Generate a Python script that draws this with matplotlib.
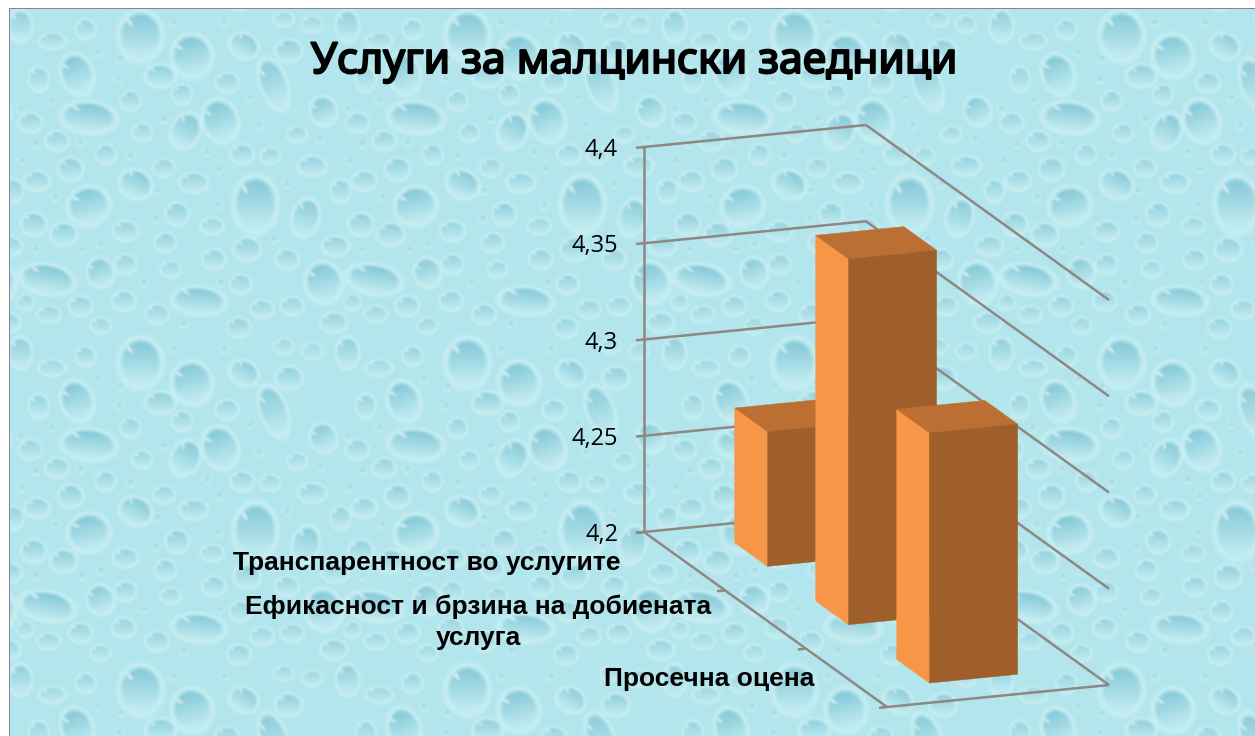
#!/usr/bin/env python3
# -*- coding: utf-8 -*-

import numpy as np
import matplotlib
matplotlib.use("Agg")
import matplotlib.pyplot as plt
import matplotlib.patheffects as pe
from matplotlib.patches import Polygon

# --- data ---
title = "Услуги за малцински заедници"
categories = ["Транспарентност во услугите",
              "Ефикасност и брзина на добиената\nуслуга",
              "Просечна оцена"]
values = [4.27, 4.39, 4.33]
z_ticks = [4.2, 4.25, 4.3, 4.35, 4.4]

# --- colours ---
side_col = "#F79646"
top_col = "#BC6F32"
front_col = "#9F5F2A"
grid_col = "#8F8784"

W, H = 1255, 736

# --- water drop wallpaper, one 327 px tile (x, y, w, h, angle) ---
T = 327
drops = [
    (390, 80, 130, 150, 0), (545, 140, 120, 130, -15), (200, 195, 95, 125, -20),
    (235, 325, 165, 95, 5), (630, 335, 105, 130, -20), (525, 365, 85, 110, 25),
    (790, 225, 80, 160, -20), (735, 585, 130, 170, 0), (235, 590, 125, 115, -15),
    (375, 525, 100, 85, 25), (885, 625, 80, 115, 15), (110, 810, 165, 90, 10),
    (565, 875, 160, 85, 5), (940, 820, 110, 125, -15), (700, 110, 90, 75, 30),
    (940, 305, 80, 90, -25), (450, 200, 90, 70, 0), (85, 210, 60, 75, 0),
    (360, 275, 60, 60, 0), (125, 95, 80, 50, 0), (225, 60, 60, 60, 0),
    (30, 50, 70, 95, 0), (650, 220, 70, 60, 0), (835, 125, 80, 70, 0),
    (905, 45, 60, 50, 0), (820, 30, 60, 45, 0), (515, 255, 60, 60, 0),
    (60, 340, 70, 60, 0), (140, 395, 70, 60, 0), (395, 370, 60, 55, 0),
    (285, 435, 60, 60, 0), (695, 435, 70, 60, 0), (780, 440, 60, 50, 0),
    (860, 375, 60, 50, 0), (180, 480, 75, 70, 0), (460, 475, 65, 55, 0),
    (550, 520, 85, 60, 0), (80, 515, 75, 60, 0), (905, 470, 85, 60, 0),
    (990, 545, 60, 70, 0), (500, 615, 70, 70, 0), (70, 645, 75, 70, 0),
    (160, 675, 80, 70, 0), (345, 665, 75, 60, 0), (465, 700, 65, 60, 0),
    (605, 650, 70, 50, 0), (710, 720, 80, 70, 0), (610, 750, 70, 60, 0),
    (975, 710, 80, 60, 0), (830, 750, 70, 60, 0), (345, 765, 65, 60, 0),
    (270, 790, 80, 90, -20), (480, 780, 60, 50, 0), (690, 825, 65, 60, 0),
    (340, 875, 70, 60, 0), (210, 890, 70, 60, 0), (115, 915, 70, 50, 0),
    (440, 915, 70, 60, 0), (755, 900, 70, 55, 0), (845, 890, 70, 55, 0),
    (970, 940, 80, 60, 0), (685, 955, 70, 60, 0), (270, 950, 60, 50, 0),
    (45, 880, 50, 50, 0),
]
small_drops = [(125, 275), (325, 210), (460, 330), (210, 400), (75, 405), (35, 455),
               (135, 565), (440, 545), (620, 590), (435, 630), (790, 690), (720, 265),
               (745, 350), (930, 390), (830, 525), (270, 705), (215, 720), (75, 720),
               (520, 945), (630, 820), (400, 820), (30, 300), (640, 40), (490, 40),
               (330, 150), (260, 130), (590, 430), (360, 440), (625, 480)]


def make_tile():
    base = np.array([0xB3, 0xE5, 0xEC]) / 255
    dark = np.array([0x84, 0xC8, 0xD8]) / 255
    light = np.array([0xBE, 0xEA, 0xEF]) / 255
    rim = np.array([0xCE, 0xF3, 0xF5]) / 255
    yy, xx = np.mgrid[0:T, 0:T].astype(float)
    img = np.ones((T, T, 3)) * base
    all_drops = drops + [(x, y, 26, 26, 0) for x, y in small_drops]
    for zx, zy, zw, zh, ang in all_drops:
        # zoom pixels were 3x
        cx, cy, rx, ry = zx / 3, zy / 3, zw / 6, zh / 6
        a = np.radians(ang)
        dx = (xx - cx + T / 2) % T - T / 2
        dy = (yy - cy + T / 2) % T - T / 2
        u = (dx * np.cos(a) + dy * np.sin(a)) / rx
        v = (-dx * np.sin(a) + dy * np.cos(a)) / ry
        r = np.sqrt(u ** 2 + v ** 2)
        # small ones are paler
        strength = np.clip(min(zw, zh) / 90, 0.55, 1.0)
        glow = np.clip((1.25 - r) / 0.25, 0, 1)[..., None] * 0.7
        img = img * (1 - glow) + rim * glow
        mask = np.clip((1 - r) / 0.22, 0, 1)[..., None]
        t = np.clip((v + 0.9) / 1.6, 0, 1)[..., None]
        col = dark * (1 - t) + light * t
        col = col * strength + light * (1 - strength)
        img = img * (1 - mask) + col * mask
        hu = (u + 0.5 + v + 0.55) / 0.3
        hv = (u + 0.5 - v - 0.55) / 0.13
        hl = np.clip(1.3 - np.sqrt(hu ** 2 + hv ** 2), 0, 1)[..., None] * 0.65
        img = img * (1 - hl) + np.ones(3) * hl
    # soft like the low res original
    for _ in range(2):
        img = (img + np.roll(img, 1, 0) + np.roll(img, -1, 0)
               + np.roll(img, 1, 1) + np.roll(img, -1, 1)) / 5
    return img


tile = make_tile()
wall = np.tile(tile, (H // T + 2, W // T + 2, 1))[:H - 9, :W - 10]
page = np.ones((H, W, 3))
page[9:, 10:] = wall
page[8:9, 9:] = 0.53
page[8:, 9:10] = 0.53

# --- projection of the 3d box: x across, y depth, z value ---
origin = np.array([644.0, 532.0])
ex = np.array([222.0, -22.0])
ey = np.array([243.0, 175.0])
z_px = (532.0 - 147.0) / (z_ticks[-1] - z_ticks[0])


def proj(x, y, z):
    p = origin + x * ex + y * ey
    return p[0], p[1] - (z - z_ticks[0]) * z_px


fig = plt.figure(figsize=(W / 100, H / 100), dpi=100)
ax = fig.add_axes([0, 0, 1, 1])
ax.imshow(page, extent=(0, W, H, 0), interpolation="bilinear", zorder=0)
ax.set_xlim(0, W)
ax.set_ylim(H, 0)
ax.axis("off")


def line(p, q, lw=1.8):
    ax.plot([p[0], q[0]], [p[1], q[1]], color=grid_col, lw=lw, zorder=1,
            solid_capstyle="butt")


# walls and floor
for z in z_ticks:
    line(proj(0, 0, z), proj(1, 0, z))
    line(proj(1, 0, z), proj(1, 1, z))
    line(proj(-8 / 222, 0, z), proj(0, 0, z))
    label = f"{z:.2f}".rstrip("0").replace(".", ",")
    tx, ty = proj(0, 0, z)
    ax.text(618, ty + 3, label, ha="right", va="center", fontsize=17,
            family="Open Sans", color="black", zorder=5)
line(proj(0, 0, z_ticks[0]), proj(0, 0, z_ticks[-1]))
line(proj(0, 0, z_ticks[0]), proj(0, 1, z_ticks[0]))
line(proj(0, 1, z_ticks[0]), proj(1, 1, z_ticks[0]))
for i in range(len(categories) + 1):
    y = i / len(categories)
    line(proj(-8 / 222, y, z_ticks[0]), proj(0, y, z_ticks[0]))

# bars, back one first
bar_x0, bar_w = 0.30, 0.397
bar_d = 0.135
for i, v in enumerate(values):
    yc = (i + 0.5) / len(categories)
    y0, y1 = yc - bar_d / 2, yc + bar_d / 2
    x0, x1 = bar_x0, bar_x0 + bar_w
    zb = z_ticks[0]
    ax.add_patch(Polygon([proj(x0, y0, v), proj(x0, y1, v), proj(x0, y1, zb), proj(x0, y0, zb)],
                         fc=side_col, ec=side_col, lw=0.3, zorder=2 + i / 10))
    ax.add_patch(Polygon([proj(x0, y0, v), proj(x1, y0, v), proj(x1, y1, v), proj(x0, y1, v)],
                         fc=top_col, ec=top_col, lw=0.3, zorder=2 + i / 10))
    ax.add_patch(Polygon([proj(x0, y1, v), proj(x1, y1, v), proj(x1, y1, zb), proj(x0, y1, zb)],
                         fc=front_col, ec=front_col, lw=0.3, zorder=2 + i / 10))

# texts, title font has no bold face here so thicken it with a stroke
ax.text(634, 62, title, ha="center", va="center", fontsize=30.7, family="Noto Sans",
        color="black", zorder=5,
        path_effects=[pe.withStroke(linewidth=1.5, foreground="black")])
label_pos = [(427, 563), (478, 622), (709, 679)]
for (lx, ly), cat in zip(label_pos, categories):
    ax.text(lx, ly, cat, ha="center", va="center", fontsize=19, fontweight="bold",
            family="Liberation Sans", color="black", linespacing=1.35, zorder=5)

fig.savefig("out.png", dpi=100)
